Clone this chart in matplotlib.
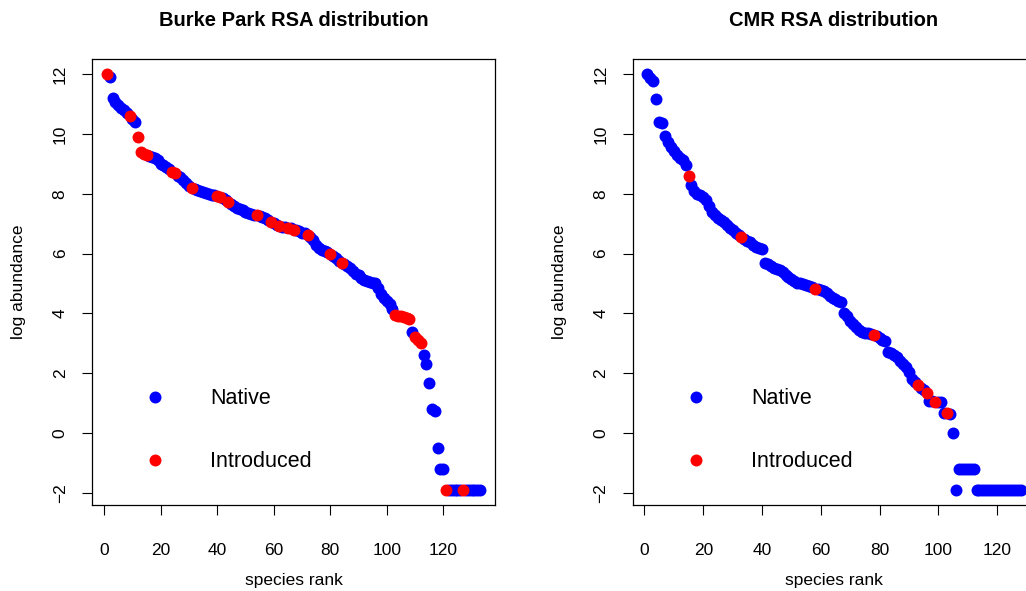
import matplotlib
matplotlib.use("Agg")
import matplotlib.pyplot as plt
from matplotlib.lines import Line2D

# log abundance of each species, in rank order
burke_logab = [
    12.0, 11.9, 11.2, 11.05, 10.95, 10.85, 10.8, 10.7, 10.6, 10.5,
    10.4, 9.9, 9.38, 9.32, 9.28, 9.25, 9.22, 9.2, 9.12, 9.0,
    8.95, 8.88, 8.82, 8.72, 8.68, 8.6, 8.55, 8.45, 8.35, 8.25,
    8.2, 8.15, 8.12, 8.1, 8.06, 8.03, 8.0, 7.97, 7.95, 7.92,
    7.88, 7.85, 7.8, 7.72, 7.65, 7.58, 7.52, 7.48, 7.44, 7.4,
    7.37, 7.33, 7.3, 7.28, 7.25, 7.22, 7.18, 7.12, 7.07, 7.02,
    6.95, 6.92, 6.9, 6.88, 6.86, 6.84, 6.8, 6.78, 6.74, 6.7,
    6.68, 6.62, 6.55, 6.45, 6.3, 6.18, 6.12, 6.08, 6.05, 6.0,
    5.92, 5.85, 5.75, 5.7, 5.66, 5.6, 5.52, 5.42, 5.33, 5.27,
    5.2, 5.12, 5.08, 5.04, 5.02, 5.0, 4.85, 4.65, 4.5, 4.42,
    4.3, 4.15, 3.95, 3.93, 3.9, 3.88, 3.85, 3.82, 3.38, 3.22,
    3.12, 3.02, 2.62, 2.3, 1.68, 0.8, 0.75, -0.5, -1.2, -1.2,
    -1.9, -1.9, -1.9, -1.9, -1.9, -1.9, -1.9, -1.9, -1.9, -1.9,
    -1.9, -1.9, -1.9,
]
burke_introduced = [1, 9, 12, 13, 14, 15, 24, 25, 31, 40, 41, 44, 54, 59,
                    62, 65, 67, 72, 80, 84, 103, 104, 105, 106, 107, 108,
                    110, 111, 112, 121, 127]

cmr_logab = [
    12.0, 11.88, 11.75, 11.15, 10.38, 10.36, 9.92, 9.72, 9.55, 9.42,
    9.3, 9.2, 9.12, 8.95, 8.6, 8.3, 8.08, 8.0, 7.95, 7.88,
    7.78, 7.6, 7.4, 7.3, 7.2, 7.12, 7.05, 6.95, 6.85, 6.78,
    6.7, 6.63, 6.57, 6.5, 6.42, 6.37, 6.3, 6.22, 6.18, 6.14,
    5.7, 5.65, 5.58, 5.52, 5.48, 5.44, 5.38, 5.3, 5.22, 5.15,
    5.08, 5.03, 5.0, 4.98, 4.96, 4.93, 4.88, 4.83, 4.8, 4.77,
    4.74, 4.68, 4.58, 4.52, 4.47, 4.42, 4.38, 4.02, 3.9, 3.75,
    3.65, 3.55, 3.45, 3.38, 3.35, 3.33, 3.31, 3.29, 3.25, 3.18,
    3.12, 3.08, 2.72, 2.68, 2.6, 2.55, 2.42, 2.3, 2.2, 2.05,
    1.8, 1.72, 1.6, 1.52, 1.45, 1.35, 1.08, 1.06, 1.05, 1.05,
    1.05, 0.68, 0.66, 0.65, 0.0, -1.9, -1.2, -1.2, -1.2, -1.2,
    -1.2, -1.2, -1.9, -1.9, -1.9, -1.9, -1.9, -1.9, -1.9, -1.9,
    -1.9, -1.9, -1.9, -1.9, -1.9, -1.9, -1.9, -1.9,
]
cmr_introduced = [15, 33, 58, 78, 93, 96, 99, 103]

panels = [
    ("Burke Park RSA distribution", burke_logab, burke_introduced),
    ("CMR RSA distribution", cmr_logab, cmr_introduced),
]
x_ticks = [0, 20, 40, 60, 80, 100, 120]
y_ticks = [-2, 0, 2, 4, 6, 8, 10, 12]

plt.rcParams['font.family'] = ['Liberation Sans', 'DejaVu Sans']

fig = plt.figure(figsize=(10.26, 5.91), dpi=100)
W, H = 1026.0, 591.0
lefts = [92, 632.5]
for (title, vals, intro), left in zip(panels, lefts):
    ax = fig.add_axes([left / W, (H - 505) / H, 403 / W, 446 / H])
    n = len(vals)
    ranks = list(range(1, n + 1))
    nat_x = [r for r in ranks if r not in intro]
    nat_y = [vals[r - 1] for r in nat_x]
    int_x = [r for r in ranks if r in intro]
    int_y = [vals[r - 1] for r in int_x]
    ax.plot(nat_x, nat_y, 'o', color='blue', ms=8.6, mew=0)
    ax.plot(int_x, int_y, 'o', color='red', ms=8.6, mew=0)

    # R-style 4% padding on x
    pad = 0.04 * (n - 1)
    ax.set_xlim(1 - pad, n + pad)
    ax.set_ylim(-2.4, 12.5)
    ax.set_xticks(x_ticks)
    ax.set_yticks(y_ticks)
    ax.tick_params(axis='both', direction='out', length=7.5, width=0.8,
                   labelsize=12.5)
    ax.tick_params(axis='x', pad=20)
    ax.tick_params(axis='y', pad=10)
    for lab in ax.get_yticklabels():
        lab.set_rotation(90)
        lab.set_va('center')
    for s in ax.spines.values():
        s.set_linewidth(0.9)

    ax.set_xlabel("species rank", fontsize=12.5, labelpad=11)
    ax.set_ylabel("log abundance", fontsize=12.5, labelpad=19)
    ax.set_title(title, fontsize=14.5, fontweight='bold', pad=24)

    handles = [Line2D([], [], ls='', marker='o', color='blue', ms=8.6, mew=0),
               Line2D([], [], ls='', marker='o', color='red', ms=8.6, mew=0)]
    ax.legend(handles, ["Native", "Introduced"], loc='upper left',
              bbox_to_anchor=(0.104, 0.262), frameon=False, fontsize=15.5,
              borderpad=0, borderaxespad=0, handlelength=2.0,
              handletextpad=1.55, labelspacing=1.95)

fig.savefig("out.png", dpi=100)
